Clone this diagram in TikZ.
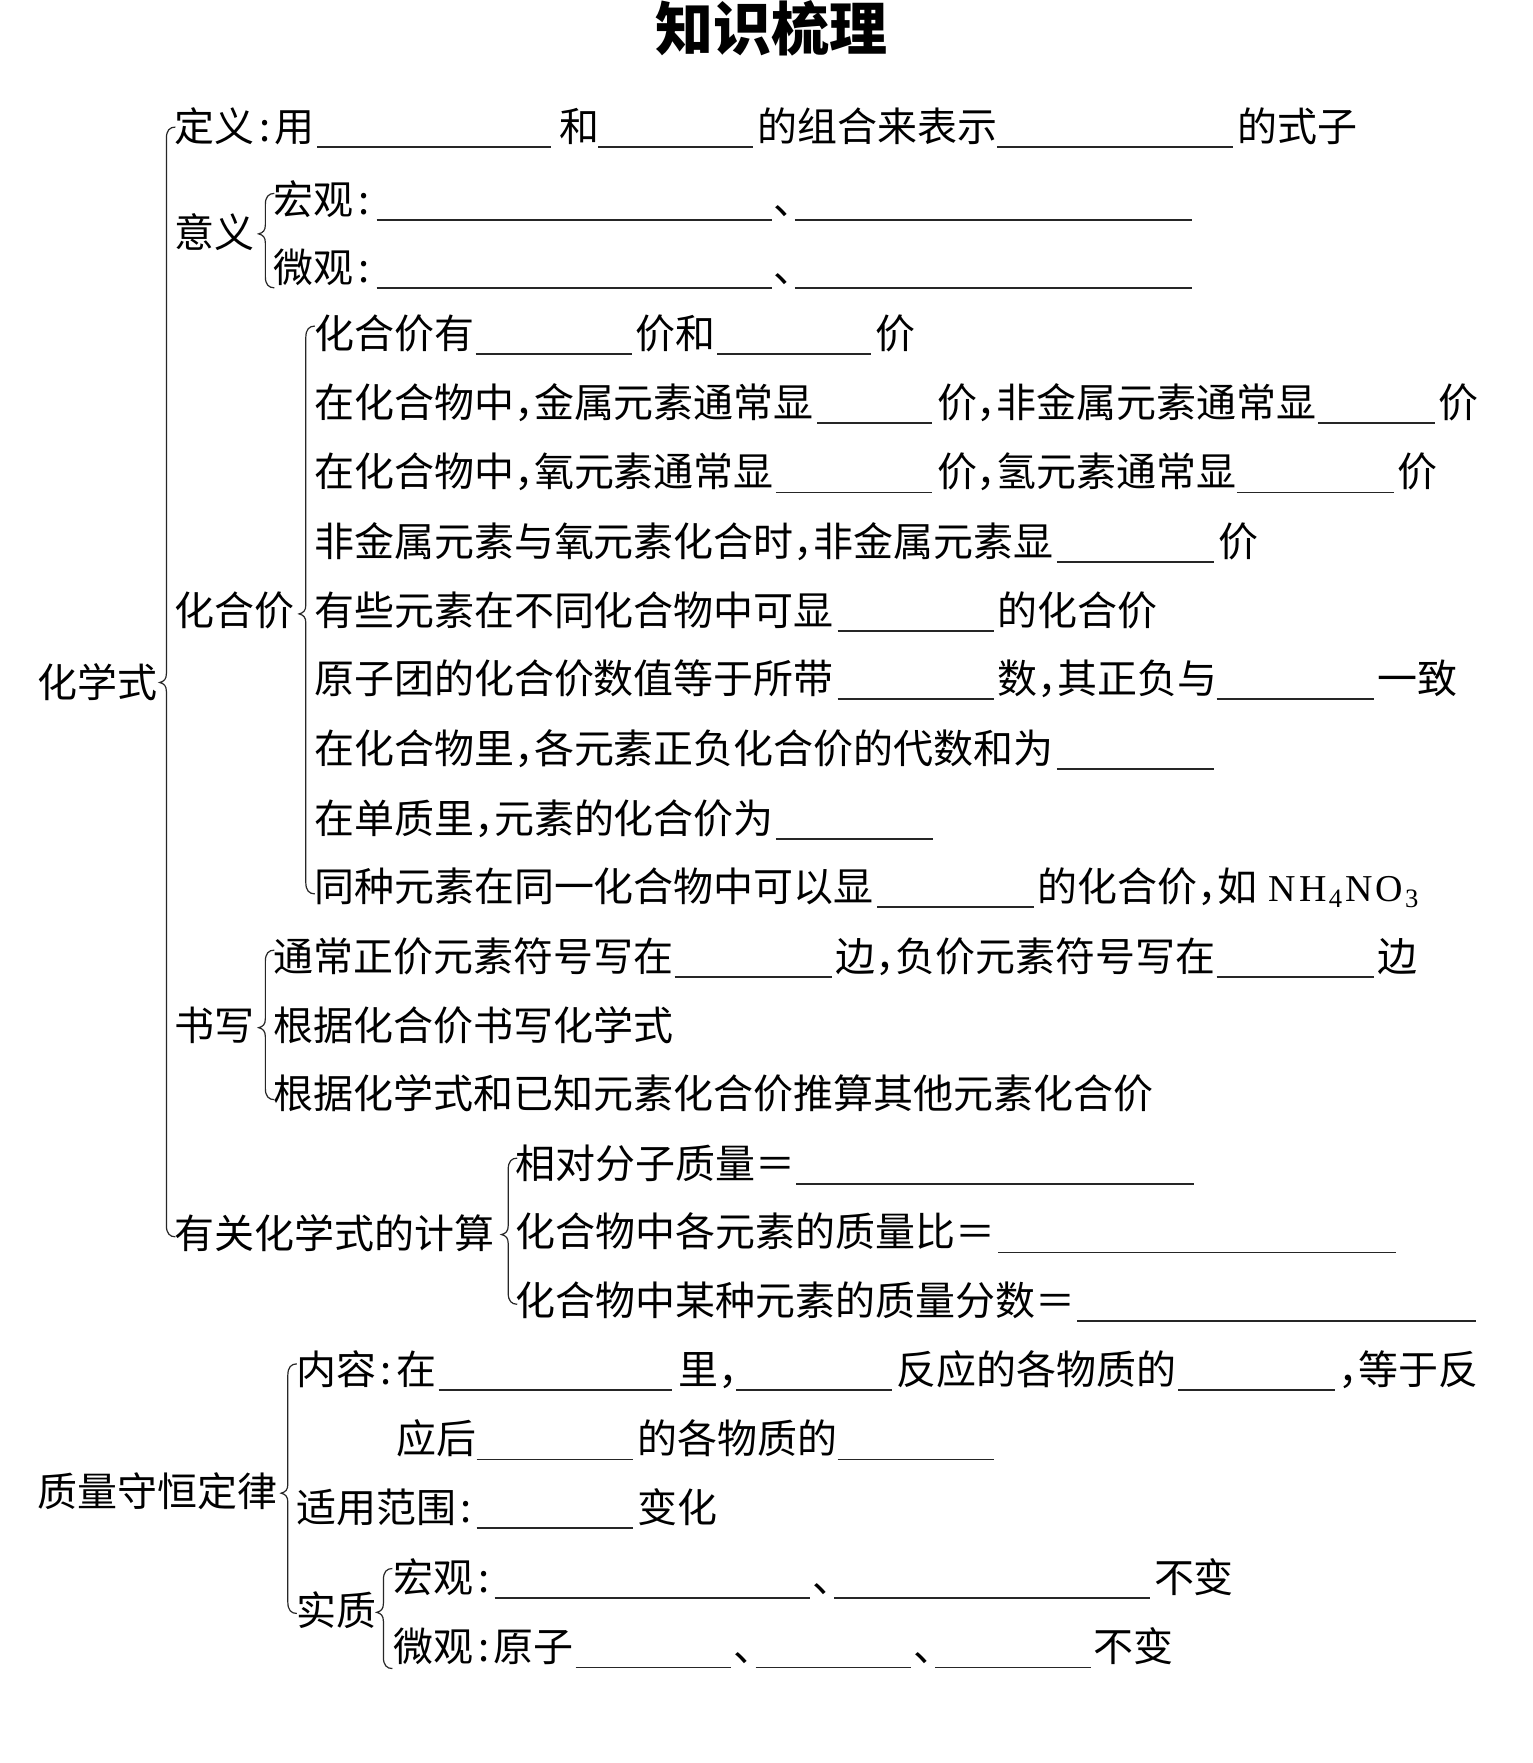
\documentclass[tikz,border=0pt]{standalone}
\usepackage{fontspec}
\newfontfamily\cjk{Noto Sans CJK SC}
\newfontfamily\serf{Liberation Serif}
\newcommand\mao{\makebox[0.5em][c]{:}}
\newcommand\dou{\makebox[0.5em][l]{，}}
\tikzset{
  txt/.style={anchor=base west, inner sep=0pt, font=\cjk\fontsize{20}{24}\selectfont},
  ttl/.style={anchor=center, inner sep=0pt, font=\cjk\bfseries\fontsize{29}{32}\selectfont},
  blank/.style={line width=0.9pt, black!85},
  brc/.style={line width=0.6pt, black!85}
}
\newcommand\T[4]{\node[txt] (#1) at (#2,#3+13) {#4};}
\newcommand\U[3]{\draw[blank] (#1,#3+18) -- (#2,#3+18);}
\newcommand\B[4]{\draw[brc] (#1+8,#2) .. controls (#1+3,#2) and (#1,#2+3) .. (#1,#2+10) -- (#1,#3-8) .. controls (#1,#3-3) and (#1-2,#3-1) .. (#1-6,#3) .. controls (#1-2,#3+1) and (#1,#3+3) .. (#1,#3+8) -- (#1,#4-10) .. controls (#1,#4-3) and (#1+3,#4) .. (#1+8,#4);}
\begin{document}
\begin{tikzpicture}[x=0.5624pt,y=-0.5624pt]
\fill[white] (0,0) rectangle (1363,1568);
\useasboundingbox (0,0) rectangle (1363,1568);
\node[ttl] (title) at (686,25) {知识梳理};
% 化学式
\T{hxs}{33}{607}{化学式}
\B{148}{113}{607}{1100}
% 定义
\T{dy1}{155}{113}{定义\mao 用}
\U{282}{490}{113}
\T{dy2}{497}{113}{和}
\U{532}{670}{113}
\T{dy3}{673}{113}{的组合来表示}
\U{887}{1097}{113}
\T{dy4}{1100}{113}{的式子}
% 意义
\T{yy}{155}{207}{意义}
\B{236}{172}{208}{256}
\T{hg1}{243}{178}{宏观\mao}
\U{335}{687}{178}
\T{hg2}{688}{178}{、}
\U{707}{1060}{178}
\T{wg1}{243}{238}{微观\mao}
\U{335}{687}{238}
\T{wg2}{688}{238}{、}
\U{707}{1060}{238}
% 化合价
\T{hhj}{155}{543}{化合价}
\B{272}{290}{546}{795}
\T{a1}{279}{297}{化合价有}
\U{423}{562}{297}
\T{a2}{565}{297}{价和}
\U{638}{775}{297}
\T{a3}{778}{297}{价}
\T{b1}{279}{358}{在化合物中\dou 金属元素通常显}
\U{727}{829}{358}
\T{b2}{833}{358}{价\dou 非金属元素通常显}
\U{1172}{1276}{358}
\T{b3}{1279}{358}{价}
\T{c1}{279}{420}{在化合物中\dou 氧元素通常显}
\U{690}{829}{420}
\T{c2}{833}{420}{价\dou 氢元素通常显}
\U{1100}{1240}{420}
\T{c3}{1243}{420}{价}
\T{d1}{279}{482}{非金属元素与氧元素化合时\dou 非金属元素显}
\U{940}{1080}{482}
\T{d2}{1083}{482}{价}
\T{e1}{279}{543}{有些元素在不同化合物中可显}
\U{745}{884}{543}
\T{e2}{887}{543}{的化合价}
\T{f1}{279}{604}{原子团的化合价数值等于所带}
\U{745}{884}{604}
\T{f2}{887}{604}{数\dou 其正负与}
\U{1082}{1222}{604}
\T{f3}{1225}{604}{一致}
\T{g1}{279}{666}{在化合物里\dou 各元素正负化合价的代数和为}
\U{940}{1080}{666}
\T{h1}{279}{728}{在单质里\dou 元素的化合价为}
\U{690}{830}{728}
\T{i1}{279}{789}{同种元素在同一化合物中可以显}
\U{780}{920}{789}
\T{i2}{922}{789}{的化合价\dou 如\hspace{0.3em}{\serf\fontsize{19}{22}\selectfont N\kern1.5pt H\kern1pt\textsubscript{4}\kern1pt N\kern1.5pt O\kern1pt\textsubscript{3}}}
% 书写
\T{sx}{155}{912}{书写}
\B{236}{845}{914}{978}
\T{j1}{243}{851}{通常正价元素符号写在}
\U{600}{740}{851}
\T{j2}{743}{851}{边\dou 负价元素符号写在}
\U{1082}{1222}{851}
\T{j3}{1225}{851}{边}
\T{k1}{243}{912}{根据化合价书写化学式}
\T{l1}{243}{973}{根据化学式和已知元素化合价推算其他元素化合价}
% 计算
\T{js}{155}{1097}{有关化学式的计算}
\B{452}{1030}{1098}{1160}
\T{m1}{458}{1035}{相对分子质量＝}
\U{708}{1062}{1035}
\T{n1}{458}{1096}{化合物中各元素的质量比＝}
\U{888}{1242}{1096}
\T{o1}{458}{1157}{化合物中某种元素的质量分数＝}
\U{958}{1313}{1157}
% 质量守恒定律
\T{zl}{33}{1327}{质量守恒定律}
\B{256}{1213}{1328}{1435}
\T{p1}{263}{1218}{内容\mao 在}
\U{390}{598}{1218}
\T{p2}{603}{1218}{里\dou}
\U{655}{793}{1218}
\T{p3}{797}{1218}{反应的各物质的}
\U{1048}{1187}{1218}
\T{p4}{1190}{1218}{\dou 等于反}
\T{q1}{352}{1280}{应后}
\U{424}{563}{1280}
\T{q2}{567}{1280}{的各物质的}
\U{745}{884}{1280}
\T{r1}{263}{1341}{适用范围\mao}
\U{424}{563}{1341}
\T{r2}{567}{1341}{变化}
\T{sz}{263}{1433}{实质}
\B{341}{1395}{1434}{1484}
\T{s1}{350}{1403}{宏观\mao}
\U{440}{720}{1403}
\T{s2}{722}{1403}{、}
\U{742}{1023}{1403}
\T{s3}{1026}{1403}{不变}
\T{t1}{350}{1465}{微观\mao 原子}
\U{512}{650}{1465}
\T{t2}{652}{1465}{、}
\U{672}{810}{1465}
\T{t3}{812}{1465}{、}
\U{832}{970}{1465}
\T{t4}{972}{1465}{不变}
\end{tikzpicture}
\end{document}
